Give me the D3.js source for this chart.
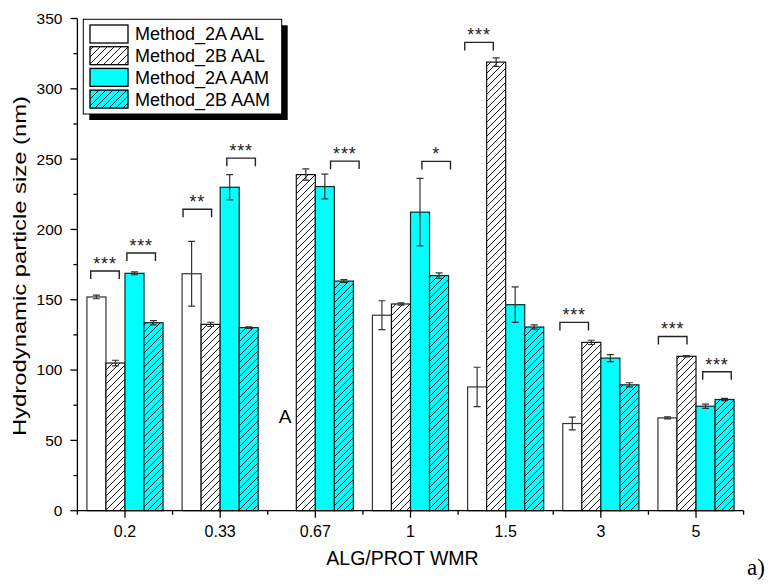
<!DOCTYPE html>
<html><head><meta charset="utf-8">
<script src="https://cdn.jsdelivr.net/npm/d3@7"></script>
<style>
html,body{margin:0;padding:0;background:#fff;}
svg{display:block;font-family:Arial,"Liberation Sans",sans-serif;}
</style></head>
<body>
<svg id="chart" width="771" height="584"></svg>
<script>
// ---------- data ----------
const categories = ["0.2","0.33","0.67","1","1.5","3","5"];
const seriesNames = ["Method_2A AAL","Method_2B AAL","Method_2A AAM","Method_2B AAM"];
const m2aAAL    = [152.0, 168.5, null, 139.0, 88.0, 62.0, 66.0];
const m2aAALerr = [1.3, 23.0, null, 10.3, 14.0, 4.5, 0.7];
const m2bAAL    = [105.0, 132.5, 239.0, 147.0, 319.0, 119.7, 109.8];
const m2bAALerr = [2.0, 1.5, 4.0, 0.8, 3.0, 1.5, 0.5];
const m2aAAM    = [168.8, 230.0, 230.5, 212.3, 146.5, 108.5, 74.3];
const m2aAAMerr = [1.0, 9.0, 8.8, 24.0, 12.6, 2.5, 1.5];
const m2bAAM    = [133.7, 130.2, 163.3, 167.2, 130.6, 89.5, 79.1];
const m2bAAMerr = [1.5, 0.5, 1.0, 1.9, 1.5, 1.5, 0.8];
const yTicks = [0,50,100,150,200,250,300,350];

// significance brackets
const sigCategory = ["0.2","0.2","0.33","0.33","0.67","1","1.5","3","5","5"];
const sigPair     = [0,1,0,1,1,1,0,0,0,1];
const sigShift    = [-0.01,-0.03,-0.04,0.02,0.11,0.07,-0.08,-0.08,-0.045,0.02];
const sigLevel    = [170.5,183.3,214.4,250.7,248.6,248.4,333.0,133.9,123.9,98.8];
const sigLabel    = ["***","***","**","***","***","*","***","***","***","***"];

const xTitle = "ALG/PROT WMR";
const yTitle = "Hydrodynamic particle size (nm)";

// ---------- layout ----------
const svg = d3.select("#chart");
const X0 = 77.4, X1 = 743.6, Y0 = 510.7, Y1 = 18.5;

const x = d3.scaleBand().domain(categories).range([X0, X1]).padding(0);
const bw = x.bandwidth();
const barW = bw * 0.2;
const y = d3.scaleLinear().domain([0, 350]).range([Y0, Y1]);

const defs = svg.append("defs");
function hatch(id, bg) {
  const p = defs.append("pattern").attr("id", id)
    .attr("patternUnits", "userSpaceOnUse").attr("width", 7).attr("height", 7);
  p.append("rect").attr("width", 7).attr("height", 7).attr("fill", bg);
  p.append("path").attr("d", "M-1,1 l2,-2 M0,7 l7,-7 M6,8 l2,-2")
    .attr("stroke", "#000").attr("stroke-width", 0.9);
}
hatch("hatchW", "#fff");
hatch("hatchC", "#00ffff");

const fills = ["#fff", "url(#hatchW)", "#00ffff", "url(#hatchC)"];
const strokes = ["#333", "#111", "#0a2a2a", "#0a2a2a"];
const vals = [m2aAAL, m2bAAL, m2aAAM, m2bAAM];
const errs = [m2aAALerr, m2bAALerr, m2aAAMerr, m2bAAMerr];

// ---------- bars ----------
const barData = [];
vals.forEach((arr, s) => arr.forEach((v, i) => {
  if (v != null) barData.push({s, cat: categories[i], v, e: errs[s][i]});
}));
const bx = d => x(d.cat) + bw * 0.1 + d.s * barW;

svg.append("g").selectAll("rect").data(barData).join("rect")
  .attr("x", bx).attr("width", barW)
  .attr("y", d => y(d.v)).attr("height", d => y(0) - y(d.v))
  .attr("fill", d => fills[d.s]).attr("stroke", d => strokes[d.s]).attr("stroke-width", 1.2);

// error bars
const eg = svg.append("g").attr("stroke", "#333").attr("stroke-width", 1.2).attr("fill", "none");
barData.forEach(d => {
  const cx = bx(d) + barW / 2;
  eg.append("path").attr("d",
    `M${cx},${y(d.v + d.e)}V${y(d.v - d.e)}` +
    `M${cx - 3.5},${y(d.v + d.e)}h7M${cx - 3.5},${y(d.v - d.e)}h7`);
});

// ---------- axes ----------
const axG = svg.append("g").attr("stroke", "#000").attr("stroke-width", 1.3).attr("fill", "none");
axG.append("path").attr("d", `M${X0},${Y0}V${Y1}`);
axG.append("path").attr("d", `M${X0},${Y0}H${X1}`);
// y ticks
d3.range(0, 351, 25).forEach(t => {
  const len = t % 50 === 0 ? 7 : 4;
  axG.append("path").attr("d", `M${X0},${y(t)}h${-len}`);
});
svg.append("g").selectAll("text").data(yTicks).join("text")
  .attr("x", X0 - 15).attr("y", d => y(d)).attr("dy", "0.35em")
  .attr("text-anchor", "end").attr("font-size", 15.5).text(d => d);
// x ticks
categories.forEach(c => {
  axG.append("path").attr("d", `M${x(c) + bw / 2},${Y0}v7`);
  axG.append("path").attr("d", `M${x(c)},${Y0}v4`);
});
axG.append("path").attr("d", `M${X1},${Y0}v4`);
svg.append("g").selectAll("text").data(categories).join("text")
  .attr("x", d => x(d) + bw / 2).attr("y", 537)
  .attr("text-anchor", "middle").attr("font-size", 16).text(d => d);

// titles
svg.append("text").attr("x", 402.5).attr("y", 565).attr("text-anchor", "middle")
  .attr("font-size", 19.5).text(xTitle);
svg.append("text").attr("transform", "translate(26,266) rotate(-90)")
  .attr("text-anchor", "middle").attr("font-size", 19)
  .attr("textLength", 340).attr("lengthAdjust", "spacingAndGlyphs").text(yTitle);

// annotations
svg.append("text").attr("x", 285).attr("y", 423).attr("text-anchor", "middle")
  .attr("font-size", 19).text("A");
svg.append("text").attr("x", 747).attr("y", 575)
  .attr("font-family", "'Times New Roman','Liberation Serif',serif")
  .attr("font-size", 23).text("a)");

// significance brackets
const sg = svg.append("g");
sigCategory.forEach((c, k) => {
  const cx = x(c) + bw / 2 + (sigPair[k] ? 0.2 : -0.2) * bw + sigShift[k] * bw;
  const hw = 0.15 * bw;
  const ty = y(sigLevel[k]);
  sg.append("path").attr("d", `M${cx - hw},${ty + 8}V${ty}H${cx + hw}V${ty + 8}`)
    .attr("fill", "none").attr("stroke", "#222").attr("stroke-width", 1.4);
  sg.append("text").attr("x", cx).attr("y", ty - 1).attr("text-anchor", "middle")
    .attr("font-size", 18).attr("letter-spacing", 0.8).attr("fill", "#222").text(sigLabel[k]);
});

// ---------- legend ----------
const lg = svg.append("g");
lg.append("rect").attr("x", 89.3).attr("y", 25.3).attr("width", 198.4).attr("height", 94.7).attr("fill", "#000");
lg.append("rect").attr("x", 83.3).attr("y", 19.3).attr("width", 198.4).attr("height", 94.7)
  .attr("fill", "#fff").attr("stroke", "#000").attr("stroke-width", 1);
seriesNames.forEach((n, i) => {
  const ry = 25 + i * 21.7;
  lg.append("rect").attr("x", 90).attr("y", ry).attr("width", 38).attr("height", 18)
    .attr("fill", fills[i]).attr("stroke", "#000").attr("stroke-width", 1.3);
  lg.append("text").attr("x", 135).attr("y", ry + 9).attr("dy", "0.36em")
    .attr("font-size", 18).text(n);
});
</script>
</body></html>
